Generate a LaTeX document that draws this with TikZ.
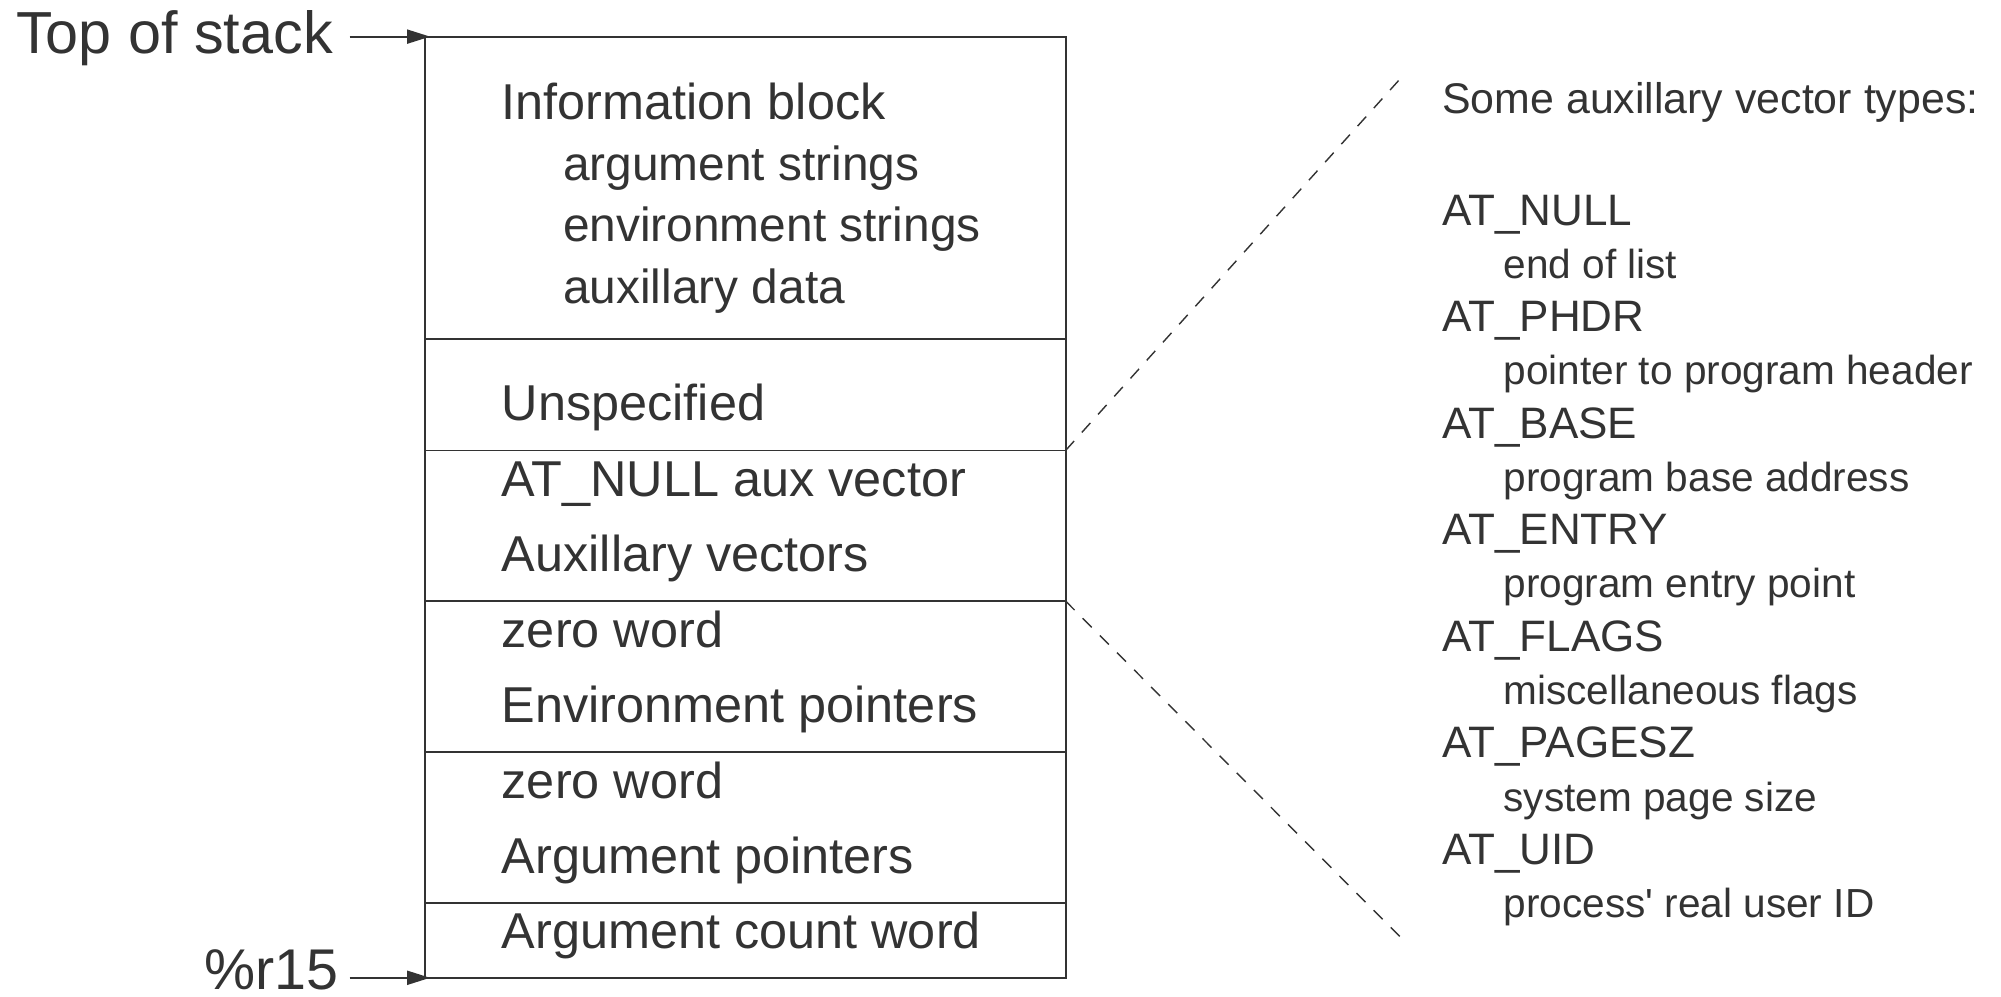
\documentclass[tikz,border=0pt]{standalone}
\usepackage{fontspec}
\setmainfont{Liberation Sans}
% plain family: keeps the straight apostrophe
\newfontfamily\plainsans{Liberation Sans}
\usetikzlibrary{arrows.meta}
\definecolor{ink}{HTML}{333333}
\begin{document}
\begin{tikzpicture}[x=1pt,y=-1pt,
  frame/.style={draw=ink,line width=1.5pt},
  pointer/.style={draw=ink,line width=1.4pt,-{Triangle[length=18pt,width=11pt]},shorten >=-4pt},
  zoomline/.style={draw=ink,line width=1.1pt,dash pattern=on 10pt off 9pt},
  boxtext/.style={anchor=base west,inner sep=0pt,text=ink,font=\plainsans\fontsize{39.5}{47}\selectfont},
  subtext/.style={anchor=base west,inner sep=0pt,text=ink,font=\plainsans\fontsize{37.5}{45}\selectfont},
  sidelabel/.style={anchor=base east,inner sep=0pt,text=ink,font=\plainsans\fontsize{46.5}{56}\selectfont},
  reglabel/.style={anchor=base east,inner sep=0pt,text=ink,font=\plainsans\fontsize{45}{54}\selectfont},
  listhead/.style={anchor=base west,inner sep=0pt,text=ink,font=\plainsans\fontsize{33.6}{40}\selectfont},
  listitem/.style={anchor=base west,inner sep=0pt,text=ink,font=\plainsans\fontsize{34.5}{41}\selectfont},
  listdesc/.style={anchor=base west,inner sep=0pt,text=ink,font=\plainsans\fontsize{31.8}{38}\selectfont}]
\useasboundingbox (0,0) rectangle (1568,781);

% stack frame outline and compartment boundaries
\coordinate (tl) at (333,28.7);
\coordinate (tr) at (835,28.7);
\coordinate (bl) at (333,766.2);
\coordinate (br) at (835,766.2);
\foreach \n/\y in {d1/265.7,d2/353,d3/471,d4/589.5,d5/707.4}{
  \coordinate (\n l) at (333,\y);
  \coordinate (\n r) at (835,\y);
}
\draw[frame] (tl) -- (tr) -- (br) -- (bl) -- cycle;
\foreach \n in {d1,d2,d3,d4,d5}{\draw[frame] (\n l) -- (\n r);}

% compartment contents
\node[boxtext] (info)  at (393,93.5)  {Information block};
\node[subtext] (args)  at (441,141.5) {argument strings};
\node[subtext] (envs)  at (441,189.5) {environment strings};
\node[subtext] (auxd)  at (441,237.5) {auxillary data};
\node[boxtext] (unsp)  at (393,329.5) {Unspecified};
\node[boxtext] (atnul) at (393,389)   {AT\_NULL aux vector};
\node[boxtext] (auxv)  at (393,448)   {Auxillary vectors};
\node[boxtext] (zw1)   at (393,507)   {zero word};
\node[boxtext] (envp)  at (393,566)   {Environment pointers};
\node[boxtext] (zw2)   at (393,625.5) {zero word};
\node[boxtext] (argp)  at (393,684.3) {Argument pointers};
\node[boxtext] (argc)  at (393,743)   {Argument count word};

% pointers into the frame
\node[sidelabel] (tos) at (261,41.8) {Top of stack};
\node[reglabel]  (sp)  at (265.5,775) {\%r15};
\coordinate (tosfrom) at (274,28.7);
\coordinate (spfrom)  at (274,766.2);
\draw[pointer] (tosfrom) -- (tl);
\draw[pointer] (spfrom) -- (bl);

% expansion of the auxiliary vector area
\coordinate (zt) at (1101,57.5);
\coordinate (zb) at (1101,738);
\draw[zoomline] (d2r) -- (zt);
\draw[zoomline] (d3r) -- (zb);

\node[listhead] (hdr) at (1130,89.3) {Some auxillary vector types:};
\foreach \nm/\ds [count=\i from 0] in {
  AT\_NULL/end of list,
  AT\_PHDR/pointer to program header,
  AT\_BASE/program base address,
  AT\_ENTRY/program entry point,
  AT\_FLAGS/miscellaneous flags,
  AT\_PAGESZ/system page size,
  AT\_UID/process' real user ID}{
  \node[listitem] (t\i) at (1130,176.4+83.5*\i) {\nm};
  \node[listdesc] (v\i) at (1178,218+83.5*\i) {\ds};
}
\end{tikzpicture}
\end{document}
